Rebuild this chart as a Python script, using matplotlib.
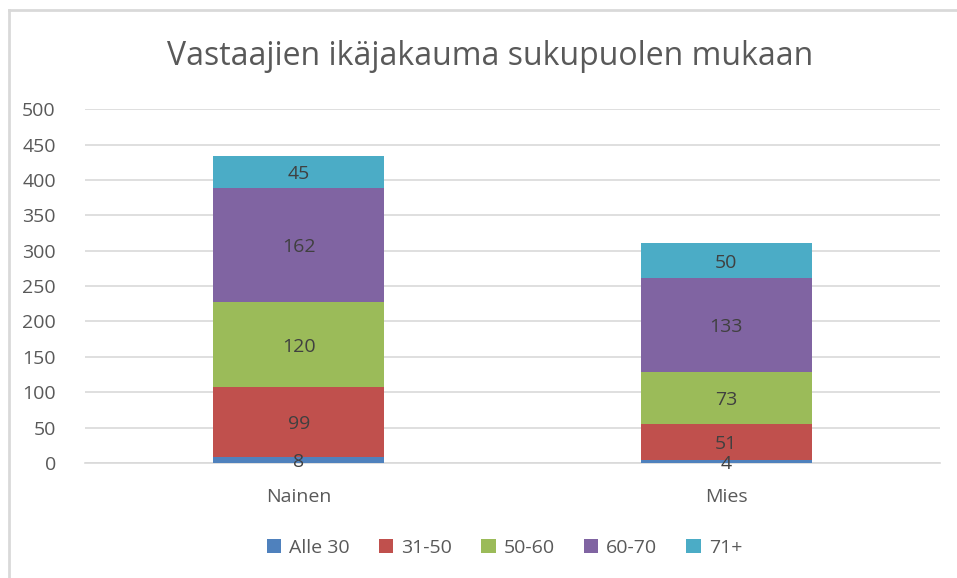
import numpy as np
import matplotlib
matplotlib.use('Agg')
import matplotlib.pyplot as plt
from matplotlib.lines import Line2D

plt.rcParams['font.family'] = ['Open Sans', 'DejaVu Sans']

# data
categories = ['Nainen', 'Mies']
series = ['Alle 30', '31-50', '50-60', '60-70', '71+']
values = {
    'Alle 30': [8, 4],
    '31-50': [99, 51],
    '50-60': [120, 73],
    '60-70': [162, 133],
    '71+': [45, 50],
}
colors = ['#4F81BD', '#C0504D', '#9BBB59', '#8064A2', '#4BACC6']
text_col = '#595959'

fig = plt.figure(figsize=(9.57, 5.78), dpi=100)
ax = fig.add_axes([0.0888, 0.199, 0.8932, 0.612])

x = np.arange(len(categories))
bottom = np.zeros(len(categories))
for name, c in zip(series, colors):
    v = np.array(values[name], dtype=float)
    ax.bar(x, v, bottom=bottom, width=0.40, color=c, zorder=3, label=name)
    for xi, b, vi in zip(x, bottom, v):
        ax.text(xi, b + vi / 2 - 3, str(int(vi)), ha='center', va='center',
                fontsize=14, color='#404040', zorder=4)
    bottom += v

ax.set_xlim(-0.5, 1.5)
ax.set_ylim(0, 500)
ax.set_yticks(np.arange(0, 501, 50))
ax.yaxis.grid(True, color='#D9D9D9', linewidth=1.2, zorder=0)
ax.set_xticks(x)
ax.set_xticklabels(categories)
for s in ['top', 'right', 'left']:
    ax.spines[s].set_visible(False)
ax.spines['bottom'].set_color('#D9D9D9')
ax.spines['bottom'].set_linewidth(1.2)
ax.tick_params(axis='both', length=0, colors=text_col, labelsize=14)
ax.tick_params(axis='y', pad=21)
ax.tick_params(axis='x', pad=18)

fig.text(0.512, 0.902, 'Vastaajien ikäjakauma sukupuolen mukaan', ha='center', va='center',
         fontsize=23, color=text_col)

leg = fig.legend(loc='center', bbox_to_anchor=(0.527, 0.052), ncol=5, frameon=False,
                 fontsize=14, handlelength=0.75, handleheight=0.75, handletextpad=0.4,
                 columnspacing=1.5, labelcolor=text_col)

# chart area border (left and top edges visible)
fig.add_artist(Line2D([0.0094, 0.0094], [0, 0.982], transform=fig.transFigure,
                      color='#D9D9D9', linewidth=2))
fig.add_artist(Line2D([0.0094, 1.0], [0.982, 0.982], transform=fig.transFigure,
                      color='#D9D9D9', linewidth=2))

fig.savefig('out.png', dpi=100)
